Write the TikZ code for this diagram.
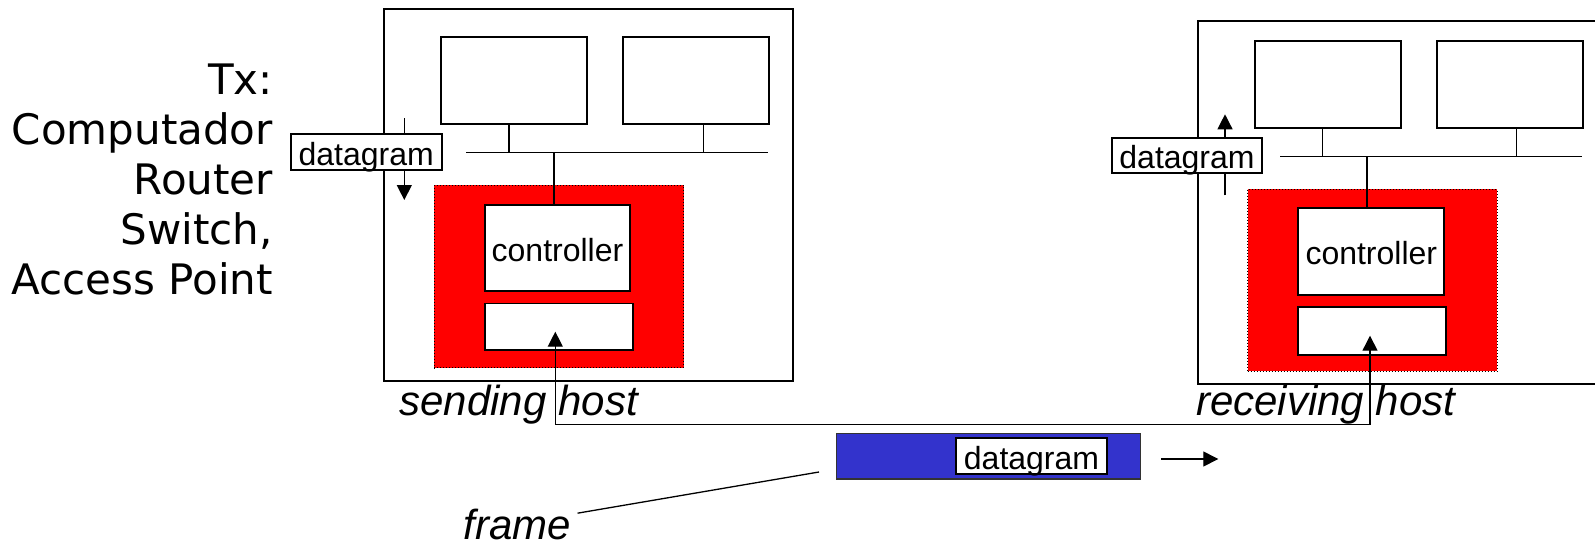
\documentclass[tikz,border=0pt]{standalone}
\usepackage{fontspec}
\setmainfont{Liberation Sans}
\newfontfamily\dejavu{DejaVu Sans}
\usetikzlibrary{arrows.meta}
\definecolor{nicred}{RGB}{255,0,0}
\definecolor{frameblue}{RGB}{51,51,204}
\tikzset{
  hostbox/.style={draw, line width=0.9pt, inner sep=0pt},
  box/.style={draw, line width=0.85pt, fill=white, inner sep=0pt, text height=13pt, text depth=0pt,
    font=\fontsize{16}{19}\selectfont},
  nic/.style={draw, densely dotted, line width=0.5pt, fill=nicred, inner sep=0pt},
  wire/.style={line width=0.65pt},
  arr/.style={-{Triangle[length=7.5pt,width=7.5pt]}, line width=0.65pt},
  hostlabel/.style={font=\fontsize{21}{25}\selectfont\itshape, inner sep=0pt, anchor=base}
}
\begin{document}
\begin{tikzpicture}[x=0.5pt,y=-0.5pt]
      \useasboundingbox (0,0) rectangle (1595,546);
      \node[anchor=north east, align=right, inner sep=0pt,
        font=\dejavu\fontsize{21}{25}\selectfont] (tx) at (273.3,63.4)
        {Tx:\\Computador\\Router\\Switch,\\Access Point};
      \node[hostbox, minimum width=204.2pt, minimum height=185.7pt] (sh) at (588.5,195) {};
      \node[nic, minimum width=124.85pt, minimum height=91.2pt] (snic) at (558.85,276.5) {};
      \node[box, minimum width=72.8pt, minimum height=43.3pt] (sctrl) at (557.5,248) {controller};
      \node[box, minimum width=74pt, minimum height=23.35pt] (sadp) at (558.7,326.7) {};
      \node[box, minimum width=73pt, minimum height=43.6pt] (spc1) at (514.3,80.3) {};
      \node[box, minimum width=73pt, minimum height=43.6pt] (spc2) at (696.3,80.5) {};
      \coordinate (sbl) at (466,152.7);
      \coordinate (sbr) at (767.7,152.7);
      \coordinate (sa) at (404.3,118.3);
      \coordinate (sb) at (404.3,200);
      \node[hostbox, minimum width=204.2pt, minimum height=181.65pt] (rh) at (1401.9,202.65) {};
      \node[nic, minimum width=124.65pt, minimum height=91pt] (rnic) at (1372.35,280.3) {};
      \node[box, minimum width=73pt, minimum height=43.5pt] (rctrl) at (1371.3,251.8) {controller};
      \node[box, minimum width=74pt, minimum height=23.85pt] (radp) at (1372.3,330.85) {};
      \node[box, minimum width=73.15pt, minimum height=43.5pt] (rpc1) at (1327.85,84.2) {};
      \node[box, minimum width=73.15pt, minimum height=43.5pt] (rpc2) at (1510,84.2) {};
      \coordinate (rbl) at (1280,156.3);
      \coordinate (rbr) at (1581.7,156.3);
      \coordinate (ra) at (1225,195.3);
      \coordinate (rb) at (1225,114.3);
      \begin{scope}[wire]
        \draw (sbl) -- (sbr);
        \draw ([xshift=-2.6pt]spc1.south) -- ([xshift=-2.6pt]spc1.south |- sbl);
        \draw ([xshift=3.5pt]spc2.south) -- ([xshift=3.5pt]spc2.south |- sbl);
        \draw ([xshift=-1.75pt]sctrl.north) -- ([xshift=-1.75pt]sctrl.north |- sbl);
        \draw (rbl) -- (rbr);
        \draw ([xshift=-2.6pt]rpc1.south) -- ([xshift=-2.6pt]rpc1.south |- rbl);
        \draw ([xshift=3.35pt]rpc2.south) -- ([xshift=3.35pt]rpc2.south |- rbl);
        \draw ([xshift=-2.15pt]rctrl.north) -- ([xshift=-2.15pt]rctrl.north |- rbl);
      \end{scope}
      \draw[arr] (sa) -- (sb);
      \draw[arr] (ra) -- (rb);
      \node[box, minimum width=75.5pt, minimum height=18pt] (sdg) at (366.2,152) {datagram};
      \node[box, minimum width=75.3pt, minimum height=17.8pt] (rdg) at (1187,155.5) {datagram};
      \node[hostlabel] (slabel) at (518.7,415) {sending host};
      \node[hostlabel] (rlabel) at (1325.8,415) {receiving host};
      \coordinate (stip) at (555.3,331.7);
      \coordinate (bend) at (1370,424.3);
      \coordinate (rtip) at (1370,335.7);
      \draw[{Triangle[length=7.5pt,width=7.5pt]}-{Triangle[length=7.5pt,width=7.5pt]}, wire]
        (stip) |- (bend) -- (rtip);
      \node[draw=black!80, line width=0.6pt, fill=frameblue, inner sep=0pt,
        minimum width=152pt, minimum height=22.85pt] (frm) at (988.7,456.2) {};
      \node[box, minimum width=75.2pt, minimum height=18pt] (fdg) at (1031.5,456.3) {datagram};
      \coordinate (fa) at (1161,459);
      \coordinate (fb) at (1218.3,459);
      \draw[arr] (fa) -- (fb);
      \node[hostlabel] (flabel) at (517.5,539) {frame};
      \coordinate (fp) at (819,472);
      \draw[wire] (fp) -- ([shift={(6,5)}]flabel.north east);
    \end{tikzpicture}
\end{document}
